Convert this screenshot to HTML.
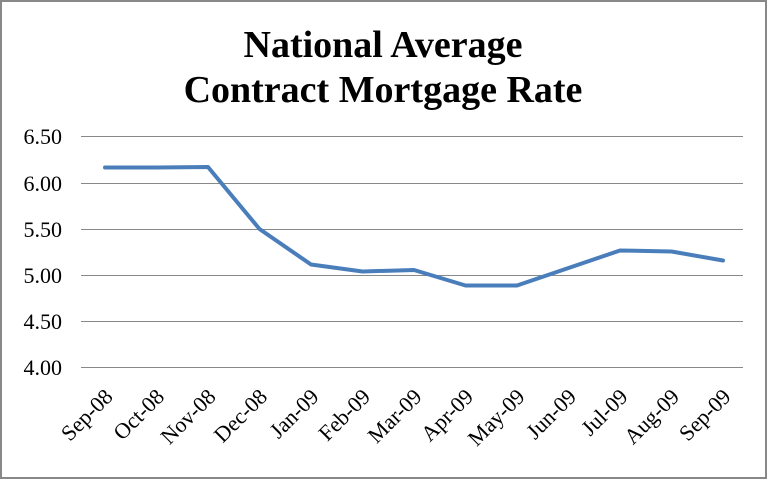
<!DOCTYPE html>
<html><head><style>
body{margin:0;background:#fff;}
svg{display:block}
</style></head><body>
<svg width="768" height="480" xmlns="http://www.w3.org/2000/svg" font-family="Liberation Serif, serif">
<rect x="1" y="1" width="765" height="477" fill="#fff" stroke="#888" stroke-width="2"/>
<text x="383" y="57" text-anchor="middle" font-size="38" font-weight="bold">National Average</text>
<text x="383" y="102" text-anchor="middle" font-size="38" font-weight="bold">Contract Mortgage Rate</text>
<g stroke="#888" stroke-width="1">
<line x1="81" x2="743" y1="136.5" y2="136.5"/>
<line x1="81" x2="743" y1="183.5" y2="183.5"/>
<line x1="81" x2="743" y1="229.5" y2="229.5"/>
<line x1="81" x2="743" y1="275.5" y2="275.5"/>
<line x1="81" x2="743" y1="321.5" y2="321.5"/>
<line x1="81" x2="743" y1="367.5" y2="367.5"/>
</g>
<g font-size="22" text-anchor="end">
<text x="62" y="144">6.50</text>
<text x="62" y="191">6.00</text>
<text x="62" y="237">5.50</text>
<text x="62" y="283">5.00</text>
<text x="62" y="329">4.50</text>
<text x="62" y="375">4.00</text>
</g>
<polyline fill="none" stroke="#4a7ebb" stroke-width="4" stroke-linejoin="round" stroke-linecap="round"
points="105,167.5 156.5,167.5 208,167 259.5,229 311,264.5 362.5,271.5 414,270 465.5,285.5 517,285.5 568.5,268 620,250.5 671.5,251.5 723,260.5"/>
<g font-size="22" text-anchor="end">
<text transform="translate(114,398) rotate(-45)">Sep-08</text>
<text transform="translate(165.5,398) rotate(-45)">Oct-08</text>
<text transform="translate(217,398) rotate(-45)">Nov-08</text>
<text transform="translate(268.5,398) rotate(-45)">Dec-08</text>
<text transform="translate(320,398) rotate(-45)">Jan-09</text>
<text transform="translate(371.5,398) rotate(-45)">Feb-09</text>
<text transform="translate(423,398) rotate(-45)">Mar-09</text>
<text transform="translate(474.5,398) rotate(-45)">Apr-09</text>
<text transform="translate(526,398) rotate(-45)">May-09</text>
<text transform="translate(577.5,398) rotate(-45)">Jun-09</text>
<text transform="translate(629,398) rotate(-45)">Jul-09</text>
<text transform="translate(680.5,398) rotate(-45)">Aug-09</text>
<text transform="translate(732,398) rotate(-45)">Sep-09</text>
</g>
</svg>
</body></html>
